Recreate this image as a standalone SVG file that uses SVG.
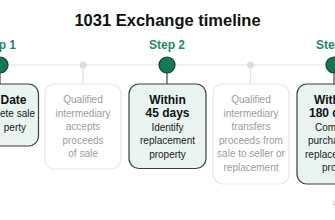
<svg xmlns="http://www.w3.org/2000/svg" width="335" height="220" viewBox="0 0 335 220">
<style>
text{font-family:"Liberation Sans",Arial,sans-serif}
.title{font-size:16.5px;font-weight:700;fill:#111}
.step{font-size:12px;font-weight:700;fill:#1a8a68}
.big{stroke:#1f3a31;stroke-width:1.2;fill:#0e7a5a}
.dot{fill:#dcdcdc}
.sbox{fill:#e9f4f1;stroke:#3a3f3d;stroke-width:1.2}
.gbox{fill:#fff;stroke:#e8e8e8;stroke-width:1.2}
.bt{font-size:12px;font-weight:700;fill:#111}
.rt{font-size:10px;fill:#1a1a1a}
.gt{font-size:10px;fill:#9c9c9c}
.dk{stroke:#333;stroke-width:1.1}
.lt{stroke:#e2e2e2;stroke-width:1.2}
</style>
<rect width="335" height="220" fill="#fff"/>
<text class="title" x="167.5" y="26" text-anchor="middle">1031 Exchange timeline</text>
<g id="connectors">
<line class="lt" x1="0" y1="65" x2="335" y2="65"/>
<line class="dk" x1="0" y1="72" x2="0" y2="84"/>
<line class="lt" x1="83" y1="65" x2="83" y2="84"/>
<line class="dk" x1="167" y1="72" x2="167" y2="84"/>
<line class="lt" x1="250.5" y1="65" x2="250.5" y2="84"/>
<line class="dk" x1="334" y1="72" x2="334" y2="84"/>
</g>
<g id="step1">
<text class="step" x="16" y="49" text-anchor="end">ep 1</text>
<circle class="big" cx="0" cy="65" r="8"/>
<rect class="sbox" x="-39" y="84" width="77.5" height="62" rx="10"/>
<text class="bt" x="26.5" y="104" text-anchor="end">Date</text>
<text class="rt" x="35" y="117" text-anchor="end">ete sale</text>
<text class="rt" x="26" y="130.5" text-anchor="end">perty</text>
</g>
<g id="qi1">
<circle class="dot" cx="83" cy="65" r="3.5"/>
<rect class="gbox" x="45" y="84" width="76" height="85" rx="10"/>
<text class="gt" x="83" y="103" text-anchor="middle">Qualified</text>
<text class="gt" x="83" y="116.5" text-anchor="middle">intermediary</text>
<text class="gt" x="83" y="130" text-anchor="middle">accepts</text>
<text class="gt" x="83" y="143.5" text-anchor="middle">proceeds</text>
<text class="gt" x="83" y="157" text-anchor="middle">of sale</text>
</g>
<g id="step2">
<text class="step" x="167" y="49" text-anchor="middle">Step 2</text>
<circle class="big" cx="167" cy="65" r="8"/>
<rect class="sbox" x="129" y="84" width="77" height="84.5" rx="10"/>
<text class="bt" x="167.5" y="103.5" text-anchor="middle">Within</text>
<text class="bt" x="167.5" y="117" text-anchor="middle">45 days</text>
<text class="rt" x="167.5" y="130.5" text-anchor="middle">Identify</text>
<text class="rt" x="167.5" y="144" text-anchor="middle">replacement</text>
<text class="rt" x="167.5" y="157.5" text-anchor="middle">property</text>
</g>
<g id="qi2">
<circle class="dot" cx="250.5" cy="65" r="3.5"/>
<rect class="gbox" x="213" y="84" width="76" height="100" rx="10"/>
<text class="gt" x="251" y="103" text-anchor="middle">Qualified</text>
<text class="gt" x="251" y="116.5" text-anchor="middle">intermediary</text>
<text class="gt" x="251" y="130" text-anchor="middle">transfers</text>
<text class="gt" x="251" y="143.5" text-anchor="middle">proceeds from</text>
<text class="gt" x="251" y="157" text-anchor="middle">sale to seller or</text>
<text class="gt" x="251" y="170.5" text-anchor="middle">replacement</text>
</g>
<g id="step3">
<text class="step" x="316" y="49">Step 3</text>
<circle class="big" cx="334" cy="65" r="8"/>
<rect class="sbox" x="297" y="84" width="77" height="100" rx="10"/>
<text class="bt" x="314" y="103.5">Within</text>
<text class="bt" x="309" y="117">180 days</text>
<text class="rt" x="315" y="130.5">Complete</text>
<text class="rt" x="308" y="144">purchase of</text>
<text class="rt" x="305" y="157.5">replacement</text>
<text class="rt" x="322" y="171">property</text>
</g>
<text x="332" y="205" font-size="6" fill="#b0b0b0" font-family="Liberation Sans, sans-serif">1</text>
</svg>
